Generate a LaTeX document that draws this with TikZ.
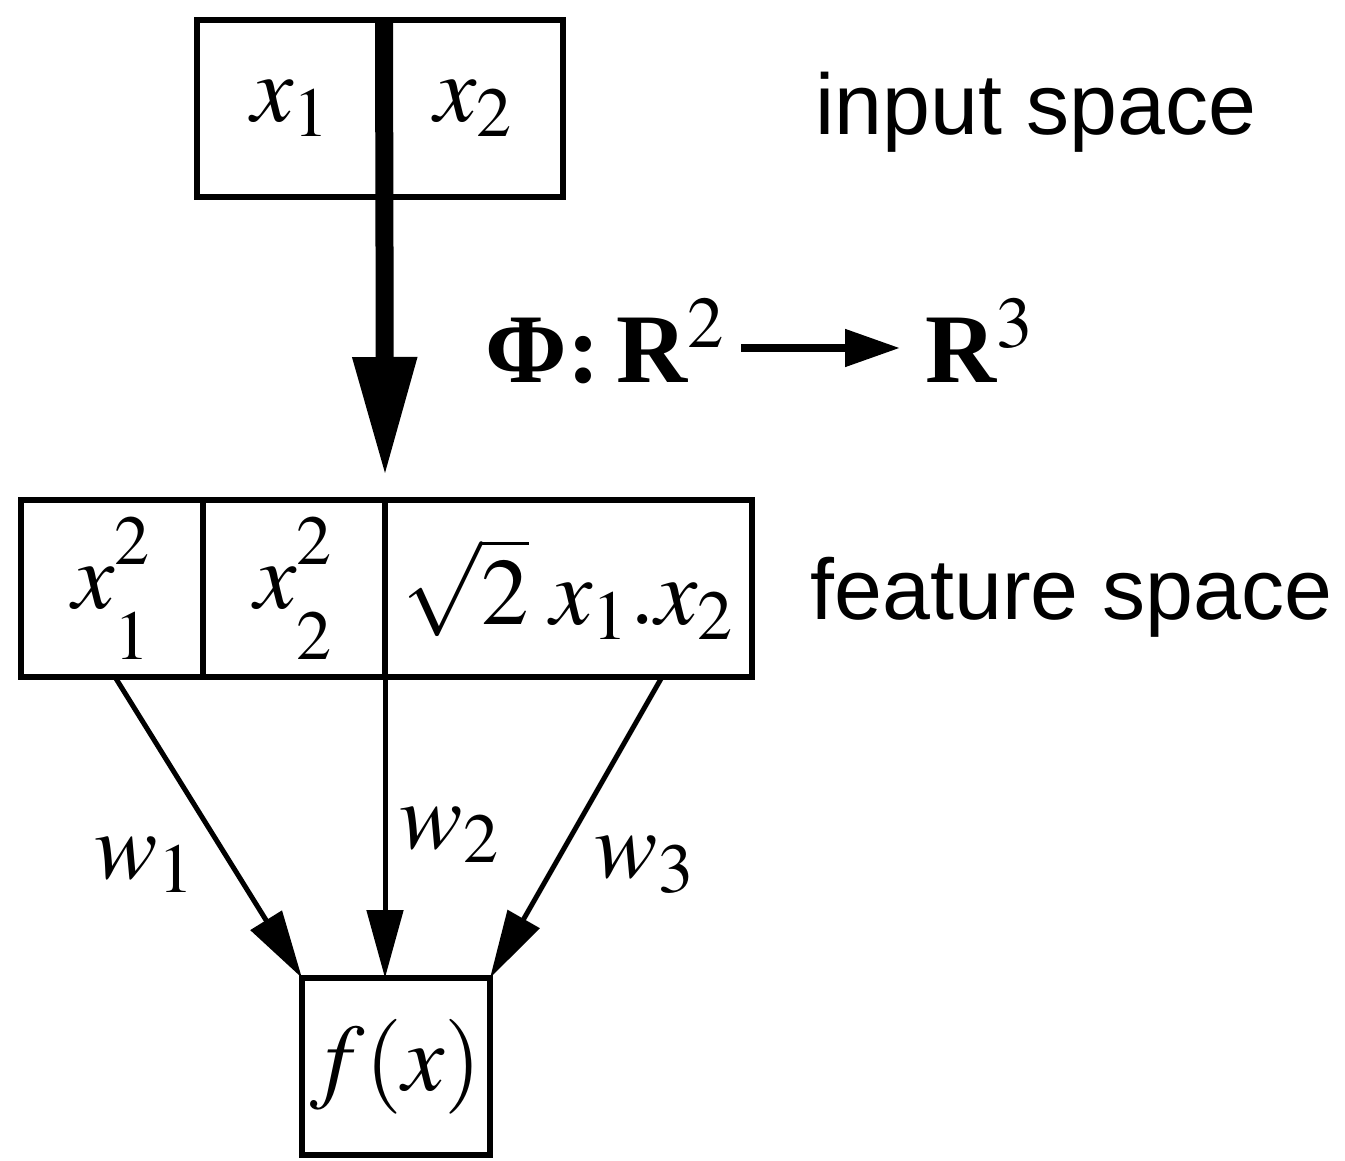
\documentclass[tikz,border=0pt]{standalone}
\usepackage{mathptmx}
\usepackage[no-math]{fontspec}
\setmainfont{Liberation Sans}
\newfontfamily\serifrm{Liberation Serif}
\usetikzlibrary{arrows.meta,positioning}
\newcommand\cellsize{\fontsize{27}{32}\selectfont}
\newcommand\tagsize{\fontsize{24.5}{29}\selectfont}
\newcommand\mapsize{\fontsize{28}{33}\selectfont}
% square with sub- and superscript kept apart
\newcommand\sqr[1]{x^{2\rule[-0.12em]{0pt}{0pt}}_{#1\rule{0pt}{0.72em}}}

\begin{document}
\begin{tikzpicture}[
          cell/.style={draw, line width=0.065cm, outer sep=0pt, inner sep=0pt,
                       minimum height=1.77cm, font=\cellsize},
          tag/.style={inner sep=0pt, anchor=base west, font=\tagsize},
          wgt/.style={inner sep=0pt, font=\cellsize},
          feed/.style={line width=0.05cm, -{Triangle[length=0.68cm,width=0.36cm]}},
          phimap/.style={line width=0.18cm, -{Triangle[length=1.2cm,width=0.6cm]}},
          mapto/.style={line width=0.08cm, -{Triangle[length=0.55cm,width=0.36cm]}}]
        \useasboundingbox (0,0) rectangle (13.45,-11.61);
        % input space
        \node[cell, minimum width=1.87cm] (x1) at (2.905,-1.085) {$x_1$};
        \node[cell, minimum width=1.79cm, right=0pt of x1] (x2) {$x_2$};
        \node[tag] (inlbl) at (8.15,-1.35) {input space};
        % feature space
        \node[cell, minimum width=1.82cm] (f1) at (1.12,-5.885) {$\sqr{1}$};
        \node[cell, minimum width=1.82cm, right=0pt of f1] (f2) {$\sqr{2}$};
        \node[cell, minimum width=3.67cm, right=0pt of f2] (f3) {$\sqrt{2}\;x_1.x_2$};
        \node[tag] (ftlbl) at (8.10,-6.20) {feature space};
        % the map
        \coordinate (tip) at ([yshift=0.23cm]f3.north west);
        \draw[phimap] (x1.north east) -- (tip);
        \node[tag, font=\mapsize] (dom) at (4.85,-3.83) {{\serifrm\bfseries Φ:\,R}$^2$};
        \node[tag, font=\mapsize] (cod) at (9.25,-3.83) {{\serifrm\bfseries R}$^3$};
        \draw[mapto] ([shift={(0.15,0.35)}]dom.base east) -- ([shift={(-0.25,0.35)}]cod.base west);
        % output
        \node[cell, minimum width=1.88cm] (fx) at (3.96,-10.665) {$f(x)$};
        \coordinate (s1) at (1.15,-6.77);
        \coordinate (s3) at (6.62,-6.77);
        \draw[feed] (s1) -- (fx.north west);
        \draw[feed] (f3.south west) -- (f3.south west |- fx.north);
        \draw[feed] (s3) -- (fx.north east);
        \node[wgt] (w1) at (1.45,-8.65) {$w_1$};
        \node[wgt] (w2) at (4.50,-8.35) {$w_2$};
        \node[wgt] (w3) at (6.45,-8.65) {$w_3$};
      \end{tikzpicture}
\end{document}
